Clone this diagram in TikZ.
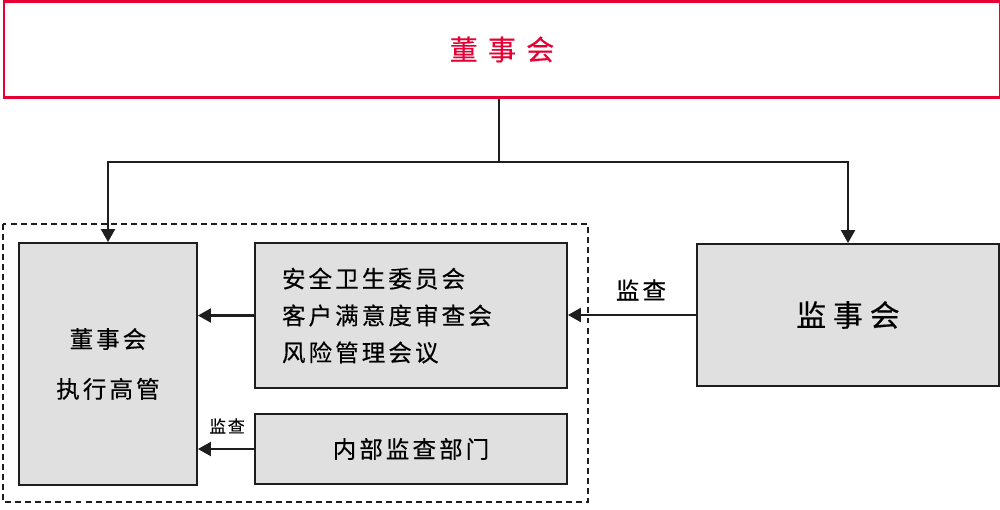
\documentclass[tikz,border=0pt]{standalone}
\usepackage{fontspec}
\setmainfont{Noto Sans CJK SC}[FakeBold=0.4]
\usepackage{xcolor}
\usetikzlibrary{arrows.meta,positioning}
\definecolor{boardred}{HTML}{E60033}
\definecolor{boxgray}{HTML}{E0E0E0}
\definecolor{linedark}{HTML}{1E1E1E}

\tikzset{
  orgbox/.style={draw=linedark,fill=boxgray,line width=1.1pt,inner sep=0pt},
  redbox/.style={draw=boardred,line width=1.7pt,inner sep=0pt},
  orgarrow/.style={draw=linedark,line width=1.2pt,-{Triangle[length=7.4pt,width=8pt]}},
  bodytext/.style={font=\fontsize{13.4}{21}\selectfont\addfontfeature{LetterSpace=13}},
  smalltag/.style={font=\fontsize{9.6}{11}\selectfont\addfontfeature{LetterSpace=10}}
}

\begin{document}
\begin{tikzpicture}[x=0.02cm,y=-0.02cm]
% 1 px of the 1000x510 layout = 0.02 cm; y runs downwards.
\useasboundingbox (0,0) rectangle (1000,510);

% ── Board of directors (top bar) ────────────────────────────────
\node[redbox,minimum width=996*0.02cm,minimum height=96*0.02cm,
 text=boardred,font=\fontsize{16}{18}\selectfont\addfontfeature{LetterSpace=36}]
 (board) at (502,49.5) {董事会};

% ── Left block inside the dashed frame ──────────────────────────
\draw[linedark,line width=1.1pt,dash pattern=on 3.4pt off 2.3pt]
 (3,224) rectangle (588,502);
\node[orgbox,minimum width=178*0.02cm,minimum height=242*0.02cm,
 align=center,font=\fontsize{13.4}{28.4}\selectfont\addfontfeature{LetterSpace=13}]
 (execbox) at (108,364) {董事会\\执行高管};
\node[orgbox,bodytext,align=left,text width=258*0.02cm,inner xsep=27*0.02cm,
 minimum height=145*0.02cm] (committee) at (411,315.5)
 {安全卫生委员会\\客户满意度审查会\\风险管理会议};
\node[orgbox,bodytext,minimum width=312*0.02cm,minimum height=70*0.02cm]
 (audit) at (411,449) {内部监查部门};

% ── Supervisory board (right) ───────────────────────────────────
\node[orgbox,minimum width=302*0.02cm,minimum height=142*0.02cm,
 font=\fontsize{17}{19}\selectfont\addfontfeature{LetterSpace=23}]
 (supervisor) at (848,315) {监事会};

% ── Connectors ──────────────────────────────────────────────────
\coordinate (split) at (499,162);
\draw[linedark,line width=1.2pt] (board.south -| split) -- (split);
\draw[orgarrow] (split) -| (execbox.north);
\draw[orgarrow] (split) -| (supervisor.north);
\draw[orgarrow] (committee.west) -- (committee.west -| execbox.east);
\draw[orgarrow] (audit.west) -- (audit.west -| execbox.east);
\draw[orgarrow] (supervisor.west) -- (supervisor.west -| committee.east);
\node[smalltag] (audittag) at (227,426) {监查};
\node[bodytext] (supertag) at (641,290) {监查};
\end{tikzpicture}
\end{document}
